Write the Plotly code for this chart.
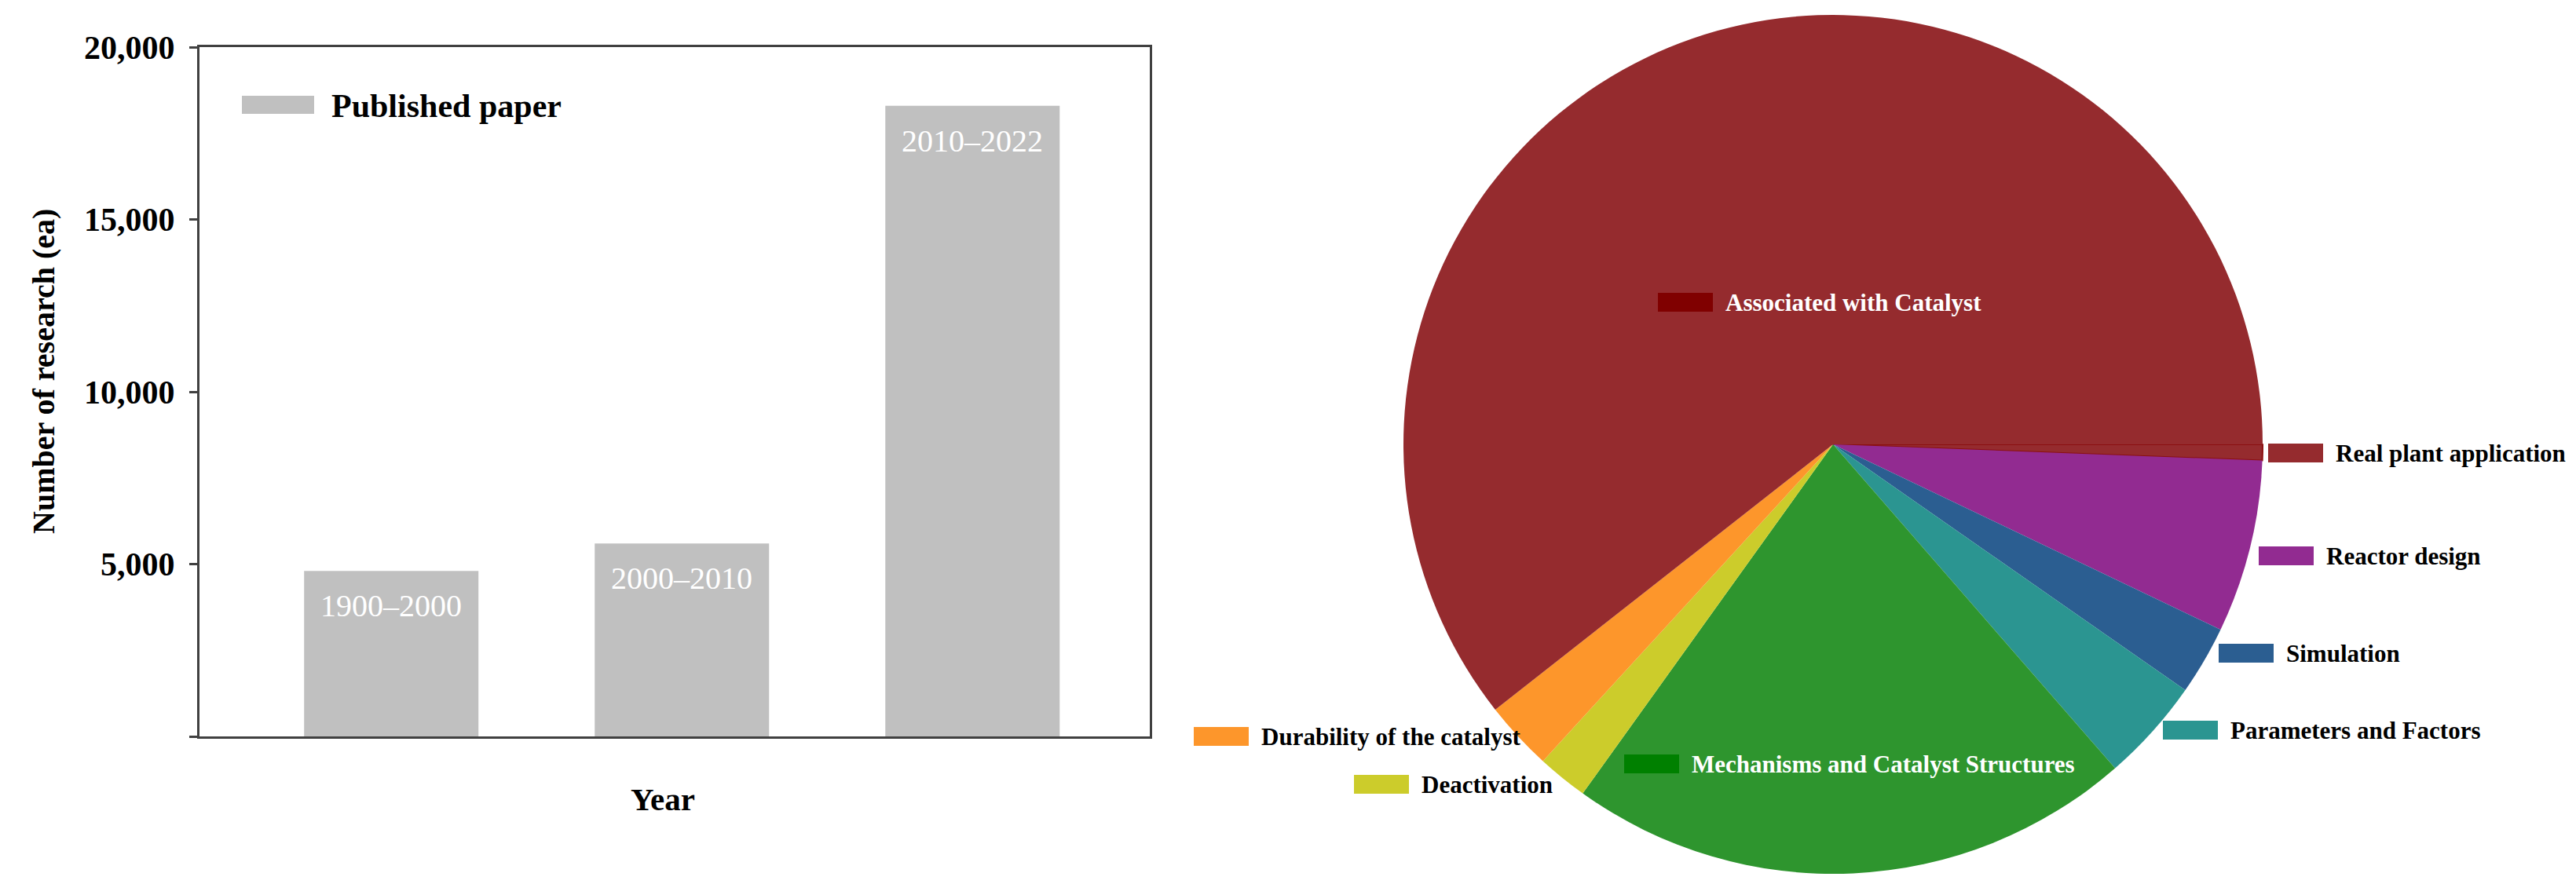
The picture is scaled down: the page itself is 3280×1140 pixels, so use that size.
import plotly.graph_objects as go

# bar chart data
periods = ["1900–2000", "2000–2010", "2010–2022"]
papers = [4800, 5600, 18300]

# pie chart data, clockwise from 3 o'clock
topics = [
    "Real plant application",
    "Reactor design",
    "Simulation",
    "Parameters and Factors",
    "Mechanisms and Catalyst Structures",
    "Deactivation",
    "Durability of the catalyst",
    "Associated with Catalyst",
]
shares = [0.6, 6.5, 2.6, 3.9, 21.3, 1.9, 2.6, 60.6]
slice_colors = ["#952B2E", "#922B91", "#2B5E91", "#2B9591",
                "#2E952E", "#CCCC2B", "#FD962B", "#952B2E"]
key_colors = ["#952B2E", "#922B91", "#2B5E91", "#2B9591",
              "#008000", "#CCCC2B", "#FD962B", "#800000"]

W, H = 3280, 1140
OFF = 8  # page body margin
FONT = "Liberation Serif, Times New Roman, serif"


def px(x):
    return (x - OFF) / W


def py(y):
    return 1 - (y - OFF) / H


# label key positions for the pie (left edge of key, centre line), in pixels
key_pos = {
    "Real plant application": (2888, 577),
    "Reactor design": (2876, 708),
    "Simulation": (2825, 832),
    "Parameters and Factors": (2754, 930),
    "Mechanisms and Catalyst Structures": (2068, 973),
    "Deactivation": (1724, 999),
    "Durability of the catalyst": (1520, 938),
    "Associated with Catalyst": (2111, 385),
}

fig = go.Figure()

fig.add_trace(
    go.Bar(
        x=periods,
        y=papers,
        width=0.6,
        marker=dict(color="#C0C0C0", line=dict(width=0)),
        name="Published paper",
        showlegend=False,
        xaxis="x",
        yaxis="y",
    )
)

line_w = [2 if t == "Real plant application" else 0 for t in topics]
fig.add_trace(
    go.Pie(
        labels=topics,
        values=shares,
        sort=False,
        direction="clockwise",
        rotation=90,
        textinfo="none",
        marker=dict(colors=slice_colors, line=dict(color="#8B1010", width=line_w)),
        domain=dict(x=[px(2334 - 547), px(2334 + 547)], y=[py(566 + 547), py(566 - 547)]),
        showlegend=False,
    )
)

annotations = []
shapes = []

# bar labels inside the bars
for p, v in zip(periods, papers):
    annotations.append(
        dict(x=p, y=v, xref="x", yref="y", text=p, showarrow=False,
             xanchor="center", yanchor="top", yshift=-20,
             font=dict(family=FONT, size=40, color="white"))
    )

# legend for the bar chart
shapes.append(dict(type="rect", xref="paper", yref="paper",
                   x0=px(308), x1=px(400), y0=py(145), y1=py(122),
                   fillcolor="#C0C0C0", line=dict(width=0)))
annotations.append(dict(x=px(420), y=py(135), xref="paper", yref="paper",
                        text="Published paper", showarrow=False,
                        xanchor="left", yanchor="middle",
                        font=dict(family=FONT, size=42, color="black", weight="bold")))

# axis titles
annotations.append(dict(x=px(55), y=py(473), xref="paper", yref="paper",
                        text="Number of research (ea)", textangle=-90, showarrow=False,
                        xanchor="center", yanchor="middle",
                        font=dict(family=FONT, size=40, color="black", weight="bold")))
annotations.append(dict(x=px(844), y=py(1018), xref="paper", yref="paper",
                        text="Year", showarrow=False,
                        xanchor="center", yanchor="middle",
                        font=dict(family=FONT, size=41, color="black", weight="bold")))

# pie labels with colour keys
for t, c in zip(topics, key_colors):
    x0, yc = key_pos[t]
    shapes.append(dict(type="rect", xref="paper", yref="paper",
                       x0=px(x0), x1=px(x0 + 70), y0=py(yc + 12), y1=py(yc - 12),
                       fillcolor=c, line=dict(width=0)))
    txt_color = "white" if t.startswith("Mechanisms") or t.startswith("Associated") else "black"
    annotations.append(dict(x=px(x0 + 84), y=py(yc), xref="paper", yref="paper",
                            text=t, showarrow=False, xanchor="left", yanchor="middle",
                            font=dict(family=FONT, size=31, color=txt_color, weight="bold")))

fig.update_layout(
    width=W,
    height=H,
    margin=dict(l=0, r=0, t=0, b=0, autoexpand=False),
    paper_bgcolor="white",
    plot_bgcolor="white",
    xaxis=dict(
        domain=[px(254), px(1464)],
        range=[-0.66, 2.61],
        showticklabels=False,
        ticks="",
        showgrid=False,
        zeroline=False,
        showline=True,
        mirror=True,
        linecolor="#404040",
        linewidth=3,
    ),
    yaxis=dict(
        domain=[py(938), py(60)],
        range=[0, 20000],
        tickvals=[0, 5000, 10000, 15000, 20000],
        ticktext=["", "5,000", "10,000", "15,000", "20,000"],
        ticks="outside",
        ticklen=10,
        tickwidth=3,
        tickcolor="#404040",
        ticklabelstandoff=10,
        showgrid=False,
        zeroline=False,
        showline=True,
        mirror=True,
        linecolor="#404040",
        linewidth=3,
        tickfont=dict(family=FONT, size=42, color="black", weight="bold"),
    ),
    annotations=annotations,
    shapes=shapes,
)

fig.write_html("out.html")
